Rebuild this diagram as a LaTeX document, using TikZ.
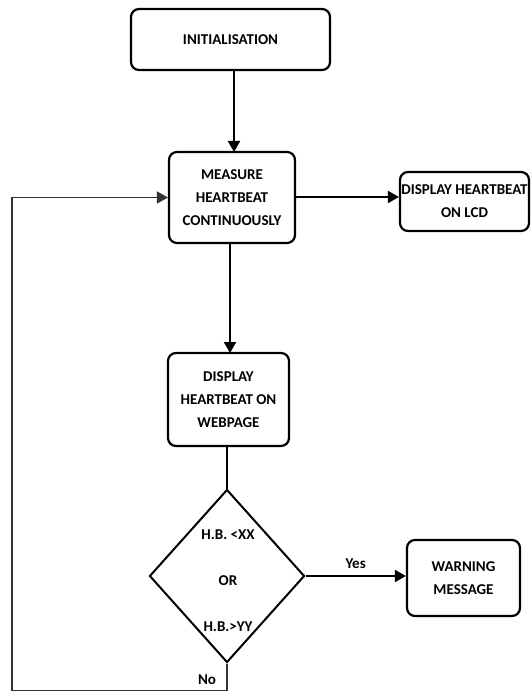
\documentclass[tikz,border=0pt]{standalone}
\usepackage{fontspec}
\setmainfont{Carlito}
\usetikzlibrary{shapes.geometric,arrows.meta}
\tikzset{
  box/.style={draw, line width=2.2pt, rounded corners=8pt, align=center, inner sep=0pt,
    font=\bfseries\fontsize{15}{23}\selectfont},
  dec/.style={draw, diamond, line width=2pt, minimum width=155pt, minimum height=173pt, inner sep=0pt},
  txt/.style={font=\bfseries\fontsize{15}{23}\selectfont, inner sep=0pt},
  arr/.style={line width=2pt, -{Triangle[length=11pt,width=12pt]}},
  thin/.style={line width=1.5pt}
}
\begin{document}
\begin{tikzpicture}[x=1pt,y=-1pt]
\useasboundingbox (0,0) rectangle (530,692);
\node[box, minimum width=199pt, minimum height=61pt] (init) at (230.5,39.5) {INITIALISATION};
\node[box, minimum width=126pt, minimum height=91pt] (meas) at (232,197.5) {MEASURE\\HEARTBEAT\\CONTINUOUSLY};
\node[box, minimum width=129pt, minimum height=59pt] (lcd) at (464.5,201.5) {DISPLAY HEARTBEAT\\ON LCD};
\node[box, minimum width=121pt, minimum height=93pt] (web) at (228.5,399.5) {DISPLAY\\HEARTBEAT ON\\WEBPAGE};
\node[dec] (d) at (227,576) {};
\node[txt] (d1) at (228,535) {H.B. <XX};
\node[txt] (d2) at (228,581) {OR};
\node[txt] (d3) at (228,627) {H.B.>YY};
\node[box, minimum width=113pt, minimum height=76pt] (warn) at (463.5,578) {WARNING\\MESSAGE};
\coordinate (lp) at (12,690.5);
\draw[arr] (init.south -| 234,0) -- (234,152);
\draw[arr] (meas.east |- 0,197) -- (lcd.west |- 0,197);
\draw[arr] (230,243) -- (230,353);
\draw[thin] (web.south -| d.north) -- (d.north);
\draw[arr] (d.east) -- (d.east -| warn.west) node[txt, midway, above=6pt] (yes) {Yes};
\draw[line width=1.5pt, black!80, -{Triangle[length=11pt,width=12pt]}] (d.south) |- (lp) |- (meas.west);
\node[txt] (no) at (207,680) {No};
\end{tikzpicture}
\end{document}
